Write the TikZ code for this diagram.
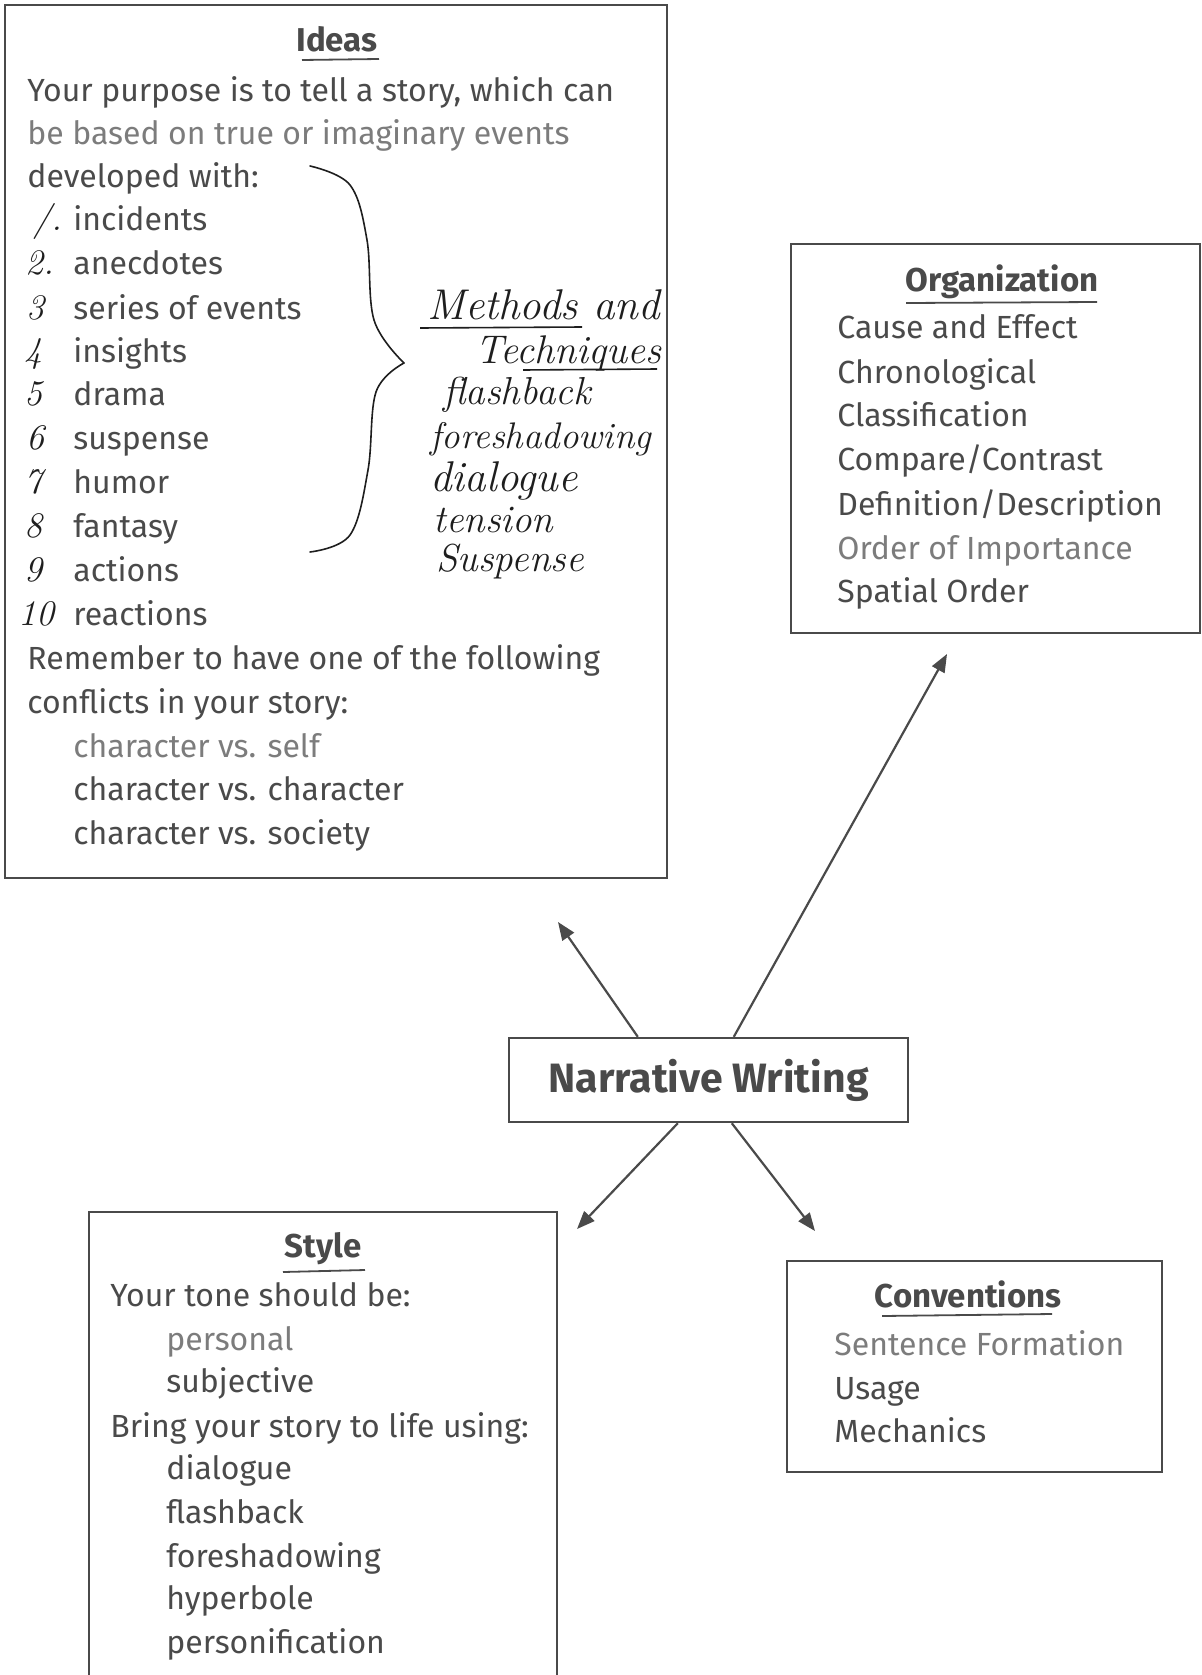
\documentclass[tikz,border=0pt]{standalone}
\usepackage{fontspec}
\setmainfont{Fira Sans}
\newfontfamily\hand{Latin Modern Roman}
\usetikzlibrary{arrows.meta,calc}
\definecolor{ink}{HTML}{4A4A4A}
\definecolor{faded}{HTML}{7C7C7C}
\definecolor{pen}{HTML}{1E1E1E}
\begin{document}
\begin{tikzpicture}[x=0.5pt,y=-0.5pt,
  txt/.style={anchor=mid west, inner sep=0pt, yshift=-2.7pt, text=ink, font=\fontsize{16}{19}\selectfont},
  fade/.style={txt, text=faded},
  ttl/.style={anchor=mid, inner sep=0pt, yshift=-2.7pt, text=ink, font=\fontsize{16.5}{19}\selectfont\bfseries},
  hw/.style={anchor=mid west, inner sep=0pt, yshift=-2.7pt, text=pen, font=\hand\itshape\fontsize{#1}{22}\selectfont},
  num/.style={anchor=mid west, inner sep=0pt, yshift=-2.7pt, text=pen, font=\hand\itshape\fontsize{18}{20}\selectfont},
  frame/.style={draw=ink, line width=1.2pt, inner sep=0pt},
  uline/.style={draw=ink, line width=0.9pt},
  penline/.style={draw=pen, line width=0.8pt},
  arr/.style={draw=ink, line width=1.1pt, -{Triangle[length=9pt,width=7pt]}},
]
\useasboundingbox[fill=white] (0,0) rectangle (1202,1675);

% ---------- Ideas ----------
\node[frame, minimum width=331pt, minimum height=436.5pt] (ideas) at (336,441.5) {};
\node[ttl] (ideasT) at (337,41) {Ideas};
\draw[uline] (302,60) -- (379,59);
\node[txt] (i1) at (27,91) {Your purpose is to tell a story, which can};
\node[fade] (i2) at (27,134) {be based on true or imaginary events};
\node[txt] (i3) at (27,177) {developed with:};
\node[txt] (i4) at (73,220) {incidents};
\node[txt] (i5) at (73,264) {anecdotes};
\node[txt] (i6) at (73,309) {series of events};
\node[txt] (i7) at (73,352) {insights};
\node[txt] (i8) at (73,395) {drama};
\node[txt] (i9) at (73,439) {suspense};
\node[txt] (i10) at (73,483) {humor};
\node[txt] (i11) at (73,527) {fantasy};
\node[txt] (i12) at (73,571) {actions};
\node[txt] (i13) at (73,615) {reactions};
\node[txt] (i14) at (27,659) {Remember to have one of the following};
\node[txt] (i15) at (27,703) {conflicts in your story:};
\node[fade] (i16) at (73,747) {character vs. self};
\node[txt] (i17) at (73,790) {character vs. character};
\node[txt] (i18) at (73,834) {character vs. society};
% handwritten numbers
\node[num] (n1) at (33,220) {/.};
\node[num] (n2) at (25,264) {2.};
\node[num] (n3) at (26,309) {3};
\node[num] (n4) at (24,352) {4};
\node[num] (n5) at (24,395) {5};
\node[num] (n6) at (26,439) {6};
\node[num] (n7) at (24,483) {7};
\node[num] (n8) at (24,527) {8};
\node[num] (n9) at (24,571) {9};
\node[num] (n10) at (18,615) {10};
% brace
\draw[penline, line cap=round] plot[smooth, tension=0.6] coordinates {(310,166) (350,185) (367,240) (374,320) (404,363)};
\draw[penline, line cap=round] plot[smooth, tension=0.6] coordinates {(404,363) (376,392) (368,470) (350,535) (310,552)};
% handwritten methods
\node[hw=21.5] (m1) at (427,309) {Methods and};
\draw[penline] (420,328) -- (582,327);
\node[hw=20] (m2) at (475,353) {Techniques};
\draw[penline] (523,370) -- (657,369);
\node[hw=19.5] (m3) at (443,394) {flashback};
\node[hw=18.5] (m4) at (430,438) {foreshadowing};
\node[hw=21.5] (m5) at (430,481) {dialogue};
\node[hw=19.5] (m6) at (433,522) {tension};
\node[hw=19.5] (m7) at (436,561) {Suspense};

% ---------- Organization ----------
\node[frame, minimum width=204.5pt, minimum height=194.5pt] (org) at (995.5,438.5) {};
\node[ttl] (orgT) at (1002,281) {Organization};
\draw[uline] (906,303) -- (1097,302);
\node[txt] (o1) at (837,328) {Cause and Effect};
\node[txt] (o2) at (837,373) {Chronological};
\node[txt] (o3) at (837,416) {Classification};
\node[txt] (o4) at (837,460) {Compare/Contrast};
\node[txt] (o5) at (837,505) {Definition/Description};
\node[fade] (o6) at (837,549) {Order of Importance};
\node[txt] (o7) at (837,592) {Spatial Order};

% ---------- Narrative Writing ----------
\node[frame, minimum width=199.5pt, minimum height=42pt, text=ink,
      font=\fontsize{20.5}{24}\selectfont\bfseries] (nw) at (708.5,1080) {Narrative Writing};

% ---------- Style ----------
\draw[frame] (89,1675) -- (89,1212) -- (557,1212) -- (557,1675);
\node[ttl] (styT) at (323,1247) {Style};
\draw[uline] (283,1272) -- (365,1270);
\node[txt] (s1) at (110,1296) {Your tone should be:};
\node[fade] (s2) at (166,1340) {personal};
\node[txt] (s3) at (166,1382) {subjective};
\node[txt] (s4) at (110,1427) {Bring your story to life using:};
\node[txt] (s5) at (166,1469) {dialogue};
\node[txt] (s6) at (166,1513) {flashback};
\node[txt] (s7) at (166,1557) {foreshadowing};
\node[txt] (s8) at (166,1599) {hyperbole};
\node[txt] (s9) at (166,1643) {personification};

% ---------- Conventions ----------
\node[frame, minimum width=187.5pt, minimum height=105.5pt] (conv) at (974.5,1366.5) {};
\node[ttl] (convT) at (968,1297) {Conventions};
\draw[uline] (882,1316) -- (1052,1314);
\node[fade] (c1) at (834,1345) {Sentence Formation};
\node[txt] (c2) at (834,1389) {Usage};
\node[txt] (c3) at (834,1432) {Mechanics};

% ---------- arrows ----------
\coordinate (tIdeas) at (558,922);
\coordinate (tOrg) at (947,654);
\coordinate (tSty) at (577,1229);
\coordinate (tConv) at (815,1231);
\draw[arr] ($(nw.north west)+(130,0)$) -- (tIdeas);
\draw[arr] ($(nw.north west)+(226,0)$) -- (tOrg);
\draw[arr] ($(nw.south west)+(170,0)$) -- (tSty);
\draw[arr] ($(nw.south west)+(224,0)$) -- (tConv);
\end{tikzpicture}
\end{document}
